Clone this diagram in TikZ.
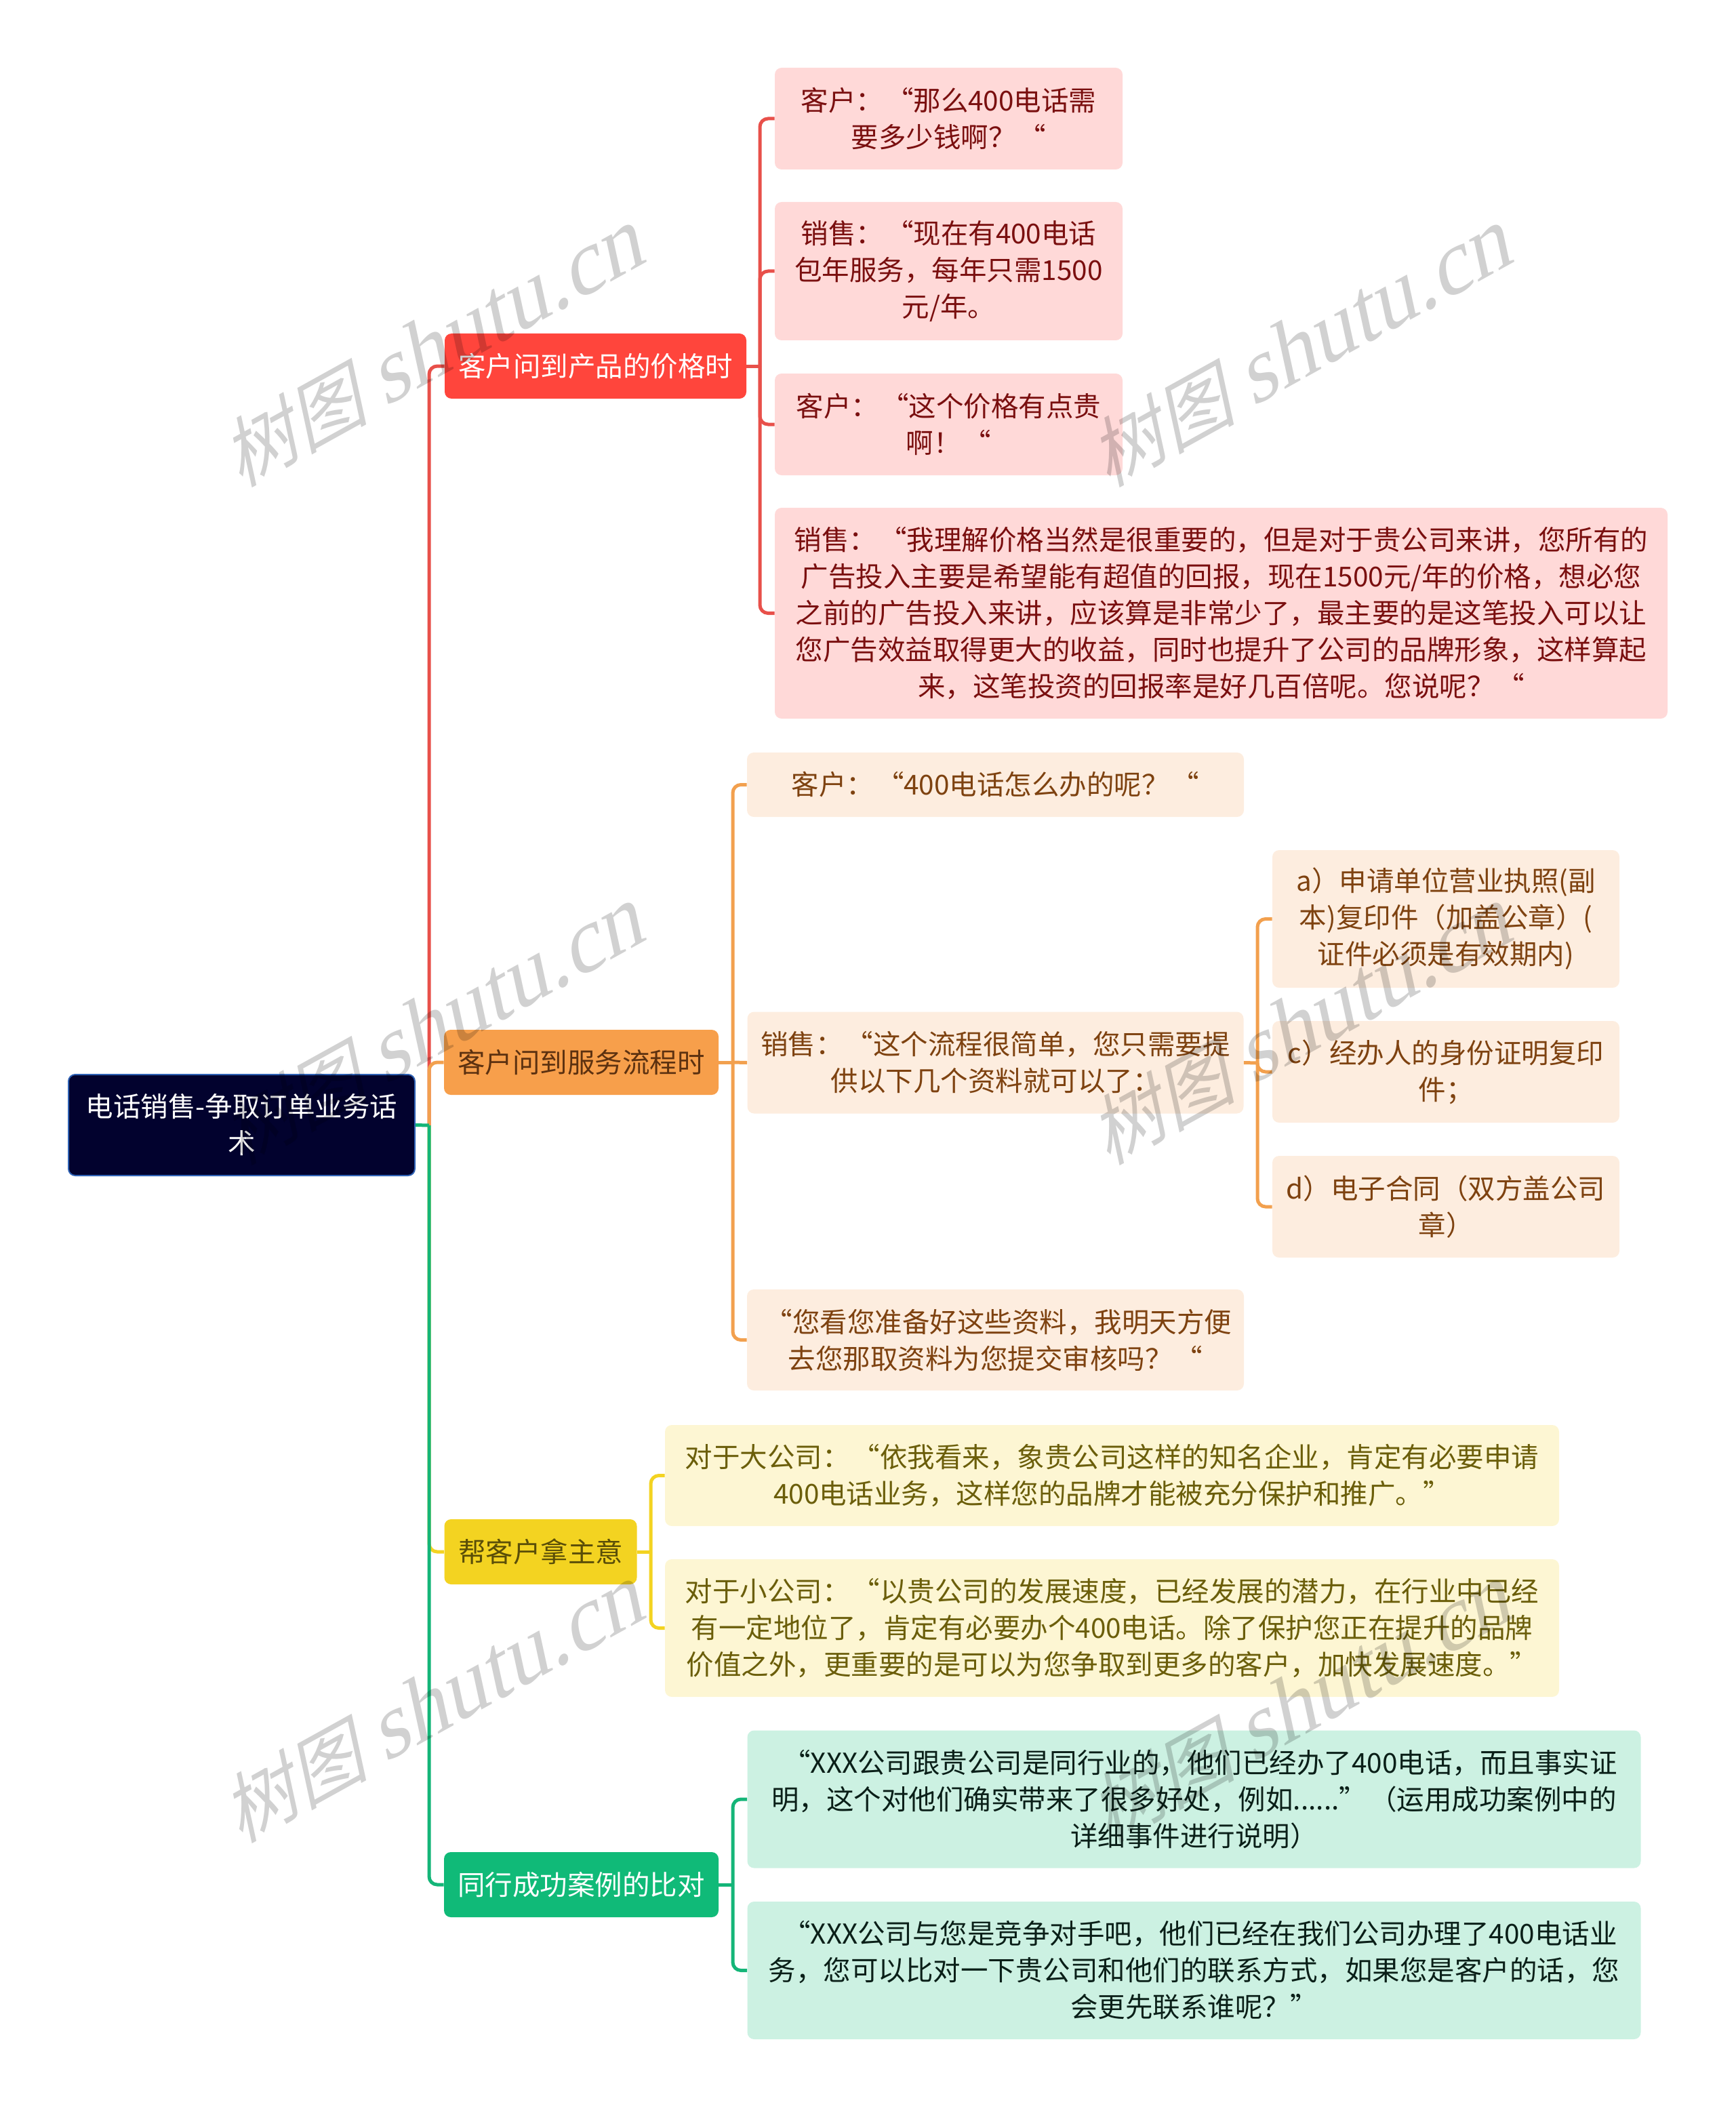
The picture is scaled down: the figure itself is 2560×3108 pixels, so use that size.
\documentclass[tikz,border=0pt]{standalone}
\usepackage{fontspec}
\setmainfont{Noto Sans CJK SC}
\newfontfamily\marklatin{Liberation Serif}
\newcommand{\qg}{\kern2pt}
\newcommand{\marktext}{树图 {\marklatin\fontsize{66pt}{60pt}\selectfont shutu.cn}}
\definecolor{rootfill}{HTML}{02022E}
\definecolor{rootedge}{HTML}{2F62B5}
\definecolor{redmain}{HTML}{FF453C}
\definecolor{redleaf}{HTML}{FFD9D8}
\definecolor{redtext}{HTML}{7A0F0F}
\definecolor{redline}{HTML}{E8504A}
\definecolor{orangemain}{HTML}{F79F4B}
\definecolor{orangeleaf}{HTML}{FDEDDF}
\definecolor{orangetext}{HTML}{7E4210}
\definecolor{orangedark}{HTML}{5C3110}
\definecolor{orangeline}{HTML}{F2A04E}
\definecolor{yellowmain}{HTML}{F3D321}
\definecolor{yellowleaf}{HTML}{FDF6D3}
\definecolor{yellowtext}{HTML}{6B5E0A}
\definecolor{yellowdark}{HTML}{5A4E08}
\definecolor{greenmain}{HTML}{10BA78}
\definecolor{greenleaf}{HTML}{CCF1E2}
\definecolor{greentext}{HTML}{0A1F18}
\definecolor{greenline}{HTML}{14B578}
\tikzset{
  topic/.style={rounded corners=5pt,align=center,inner sep=0pt,font=\fontsize{20.25pt}{27pt}\selectfont},
  rootbox/.style={topic,fill=rootfill,draw=rootedge,line width=1pt,text=white},
  redmainbox/.style={topic,fill=redmain,text=white},
  redbox/.style={topic,fill=redleaf,text=redtext},
  orangemainbox/.style={topic,fill=orangemain,text=orangedark},
  orangebox/.style={topic,fill=orangeleaf,text=orangetext},
  yellowmainbox/.style={topic,fill=yellowmain,text=yellowdark},
  yellowbox/.style={topic,fill=yellowleaf,text=yellowtext},
  greenmainbox/.style={topic,fill=greenmain,text=white},
  greenbox/.style={topic,fill=greenleaf,text=greentext},
  link/.style={line width=2.5pt,rounded corners=6pt},
  wmark/.style={text=black,opacity=.18,inner sep=0pt,rotate=29,xslant=.3,font=\fontsize{55pt}{60pt}\selectfont}
}
\begin{document}
\begin{tikzpicture}[x=.5pt,y=-.5pt]
  \useasboundingbox (0,0) rectangle (2560,3108);

  \coordinate (trunk) at (633,1660);
  \coordinate (redspine) at (1121,540);
  \coordinate (orangespine) at (1081,1567);
  \coordinate (subspine) at (1855,1568);
  \coordinate (yellowspine) at (960,2289);
  \coordinate (greenspine) at (1081,2780);

  % main branches
  \node[rootbox,minimum width=255.5pt,minimum height=74.5pt] (root) at (356.5,1659.5){电话销售-争取订单业务话\\术};
  \node[redmainbox,minimum width=222.5pt,minimum height=48pt] (price) at (878.5,540){客户问到产品的价格时};
  \node[orangemainbox,minimum width=202.5pt,minimum height=48pt] (process) at (857.5,1567){客户问到服务流程时};
  \node[yellowmainbox,minimum width=142pt,minimum height=48pt] (advice) at (797.5,2289){帮客户拿主意};
  \node[greenmainbox,minimum width=202.5pt,minimum height=48pt] (cases) at (857.5,2780){同行成功案例的比对};

  % leaves
  \node[redbox,minimum width=256.5pt,minimum height=75pt] (r1) at (1399.5,175){客户：\qg“那么400电话需\\要多少钱啊？\qg“};
  \node[redbox,minimum width=256.5pt,minimum height=102pt] (r2) at (1399.5,400){销售：\qg“现在有400电话\\包年服务，每年只需1500\\元/年。};
  \node[redbox,minimum width=256.5pt,minimum height=75pt] (r3) at (1399.5,626){客户：\qg“这个价格有点贵\\啊！\qg“};
  \node[redbox,minimum width=658.5pt,minimum height=155.5pt] (r4) at (1801.5,904.5){销售：\qg“我理解价格当然是很重要的，但是对于贵公司来讲，您所有的\\广告投入主要是希望能有超值的回报，现在1500元/年的价格，想必您\\之前的广告投入来讲，应该算是非常少了，最主要的是这笔投入可以让\\您广告效益取得更大的收益，同时也提升了公司的品牌形象，这样算起\\来，这笔投资的回报率是好几百倍呢。您说呢？\qg“};

  \node[orangebox,minimum width=366.5pt,minimum height=47.5pt] (o1) at (1468.5,1157.5){客户：\qg“400电话怎么办的呢？\qg“};
  \node[orangebox,minimum width=366pt,minimum height=75pt] (o2) at (1468.5,1567.5){销售：\qg“这个流程很简单，您只需要提\\供以下几个资料就可以了：};
  \node[orangebox,minimum width=366.5pt,minimum height=74.5pt] (o3) at (1468.5,1976.5){\ “您看您准备好这些资料，我明天方便\\去您那取资料为您提交审核吗？\qg“};
  \node[orangebox,minimum width=256pt,minimum height=101.5pt] (a) at (2133,1355.5){a）申请单位营业执照(副\\本)复印件（加盖公章）(\\证件必须是有效期内)};
  \node[orangebox,minimum width=256pt,minimum height=75pt] (c) at (2133,1581){c）经办人的身份证明复印\\件；};
  \node[orangebox,minimum width=256pt,minimum height=75pt] (d) at (2133,1780){d）电子合同（双方盖公司\\章）};

  \node[yellowbox,minimum width=659.5pt,minimum height=74.5pt] (y1) at (1640.5,2176.5){对于大公司：\qg“依我看来，象贵公司这样的知名企业，肯定有必要申请\\400电话业务，这样您的品牌才能被充分保护和推广。”};
  \node[yellowbox,minimum width=659.5pt,minimum height=101.5pt] (y2) at (1640.5,2401.5){对于小公司：\qg“以贵公司的发展速度，已经发展的潜力，在行业中已经\\有一定地位了，肯定有必要办个400电话。除了保护您正在提升的品牌\\价值之外，更重要的是可以为您争取到更多的客户，加快发展速度。”};

  \node[greenbox,minimum width=659pt,minimum height=101.5pt] (g1) at (1761.5,2654){\ \ “XXX公司跟贵公司是同行业的，他们已经办了400电话，而且事实证\\明，这个对他们确实带来了很多好处，例如......”\qg（运用成功案例中的\\详细事件进行说明）};
  \node[greenbox,minimum width=659pt,minimum height=101.5pt] (g2) at (1761.5,2906.5){\ \ “XXX公司与您是竞争对手吧，他们已经在我们公司办理了400电话业\\务，您可以比对一下贵公司和他们的联系方式，如果您是客户的话，您\\会更先联系谁呢？”};

  % connectors
  \draw[link,redline] (trunk) |- (price.west);
  \draw[link,orangeline] (trunk) |- (process.west);
  \draw[link,yellowmain] (trunk) |- (advice.west);
  \draw[link,greenline] (trunk) |- (cases.west);
  \draw[link,greenline] (root.east) -- (trunk);

  \draw[link,redline] (price.east) -- (redspine);
  \draw[link,redline] (redspine) |- (r1.west);
  \draw[link,redline] (redspine) |- (r2.west);
  \draw[link,redline] (redspine) |- (r3.west);
  \draw[link,redline] (redspine) |- (r4.west);

  \draw[link,orangeline] (process.east) -- (orangespine);
  \draw[link,orangeline] (orangespine) |- (o1.west);
  \draw[link,orangeline] (orangespine) -- (o2.west);
  \draw[link,orangeline] (orangespine) |- (o3.west);
  \draw[link,orangeline] (o2.east) -- (subspine);
  \draw[link,orangeline] (subspine) |- (a.west);
  \draw[link,orangeline] (subspine) |- (c.west);
  \draw[link,orangeline] (subspine) |- (d.west);

  \draw[link,yellowmain] (advice.east) -- (yellowspine);
  \draw[link,yellowmain] (yellowspine) |- (y1.west);
  \draw[link,yellowmain] (yellowspine) |- (y2.west);

  \draw[link,greenline] (cases.east) -- (greenspine);
  \draw[link,greenline] (greenspine) |- (g1.west);
  \draw[link,greenline] (greenspine) |- (g2.west);

  % watermark
  \node[wmark] (w1) at (646,510){\marktext};
  \node[wmark] (w2) at (1926,510){\marktext};
  \node[wmark] (w3) at (646,1510){\marktext};
  \node[wmark] (w4) at (1926,1510){\marktext};
  \node[wmark] (w5) at (646,2510){\marktext};
  \node[wmark] (w6) at (1926,2510){\marktext};
\end{tikzpicture}
\end{document}
